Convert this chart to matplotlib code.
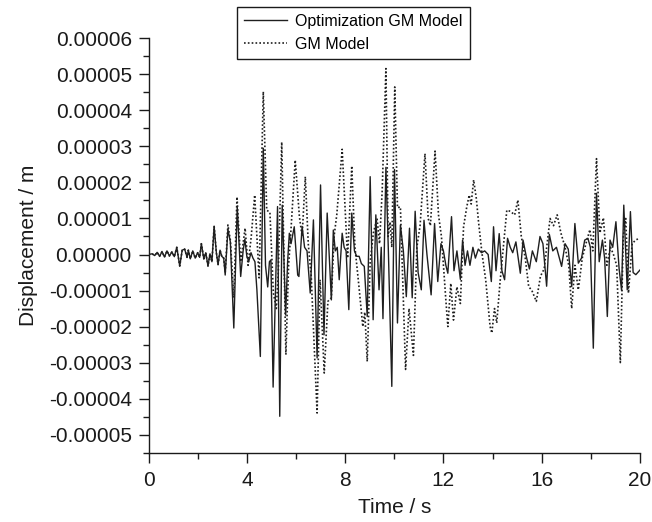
import matplotlib
matplotlib.use("Agg")
import matplotlib.pyplot as plt
from matplotlib.ticker import FixedLocator, FixedFormatter, MultipleLocator

"""Recycle params for plotting"""
plt.rc('font', family=['Liberation Sans', 'DejaVu Sans'], size=15)
plt.rc('axes', linewidth=1.0, edgecolor='#1a1a1a')
plt.rc('xtick', labelsize=15, color='#1a1a1a')
plt.rc('ytick', labelsize=15, color='#1a1a1a')

# displacement values are in units of 1e-5 m
t_opt = [0.00, 0.15, 0.25, 0.35, 0.45, 0.55, 0.65, 0.75, 0.85, 0.95, 1.05, 1.15,
         1.27, 1.37, 1.47, 1.57, 1.62, 1.70, 1.80, 1.90, 2.00, 2.08, 2.15, 2.25,
         2.33, 2.42, 2.50, 2.58, 2.67, 2.76, 2.83, 2.91, 2.98, 3.06, 3.12, 3.23,
         3.33, 3.47, 3.61, 3.75, 3.85, 3.92, 4.00, 4.08, 4.17, 4.25, 4.33, 4.41,
         4.55, 4.67, 4.76, 4.85, 4.92, 4.98, 5.07, 5.25, 5.34, 5.44, 5.58, 5.66,
         5.73, 5.80, 5.93, 6.07, 6.12, 6.25, 6.35, 6.45, 6.58, 6.71, 6.86, 7.00,
         7.14, 7.27, 7.44, 7.52, 7.60, 7.68, 7.76, 7.88, 7.96, 8.04, 8.15, 8.27,
         8.38, 8.47, 8.57, 8.66, 8.78, 8.90, 9.02, 9.14, 9.25, 9.38, 9.47, 9.54,
         9.66, 9.76, 9.90, 10.01, 10.13, 10.25, 10.37, 10.49, 10.62, 10.73, 10.85,
         10.97, 11.10, 11.21, 11.33, 11.50, 11.64, 11.77, 11.90, 12.00, 12.10,
         12.18, 12.33, 12.43, 12.55, 12.69, 12.78, 12.88, 12.98, 13.08, 13.20,
         13.30, 13.42, 13.55, 13.68, 13.82, 13.95, 14.04, 14.14, 14.27, 14.38,
         14.49, 14.61, 14.72, 14.82, 14.95, 15.13, 15.24, 15.37, 15.50, 15.62,
         15.78, 15.93, 16.05, 16.20, 16.31, 16.45, 16.60, 16.81, 16.95, 17.08,
         17.22, 17.35, 17.49, 17.62, 17.75, 17.88, 17.98, 18.10, 18.23, 18.34,
         18.47, 18.56, 18.67, 18.78, 18.89, 19.02, 19.15, 19.25, 19.34, 19.48,
         19.61, 19.72, 19.83, 20.00]
d_opt = [0.00, 0.02, -0.03, 0.06, -0.05, 0.08, -0.07, 0.10, -0.04, 0.07, -0.06, 0.20,
         -0.32, 0.12, 0.15, -0.08, 0.12, -0.12, 0.10, -0.10, 0.05, -0.08, 0.30, -0.12,
         0.05, -0.32, 0.02, -0.20, 0.78, 0.05, -0.28, 0.12, -0.05, -0.10, -0.57, 0.70,
         0.35, -2.04, 1.33, -0.61, 0.10, 0.43, -0.05, -0.19, 0.05, -0.10, -0.20, -0.98,
         -2.83, 2.95, -0.30, -0.90, -0.20, -0.15, -3.68, 1.33, -4.49, 1.37, -1.68, -0.20,
         0.59, 0.30, 0.77, -0.57, -0.61, 0.78, 0.20, 0.10, -1.07, 0.96, -2.87, 1.93,
         -2.23, 1.15, -1.26, 0.68, 0.10, 0.20, -0.70, 0.59, 0.20, 0.10, -1.53, 1.15,
         0.10, -0.05, -0.05, -0.25, -0.33, -1.72, 2.16, -1.81, 1.10, -0.98, 0.20, -1.78,
         2.42, 0.10, -3.66, 2.36, -1.90, 0.82, 0.10, -1.17, 0.73, -1.20, 1.20,
         -0.50, -0.98, 0.95, 0.00, -1.12, 0.86, -0.75, 0.30, 0.10, -0.30,
         -0.52, 1.05, -0.45, 0.10, -0.69, 0.40, -0.30, 0.10, -0.30, 0.20,
         -0.10, 0.15, 0.05, 0.10, 0.00, -0.75, 0.77, -0.45, 0.58, -0.45,
         -0.70, 0.45, 0.20, 0.05, 0.35, -0.52, 0.40, -0.05, -0.40, 0.10,
         -0.20, 0.50, 0.30, -0.88, 0.56, 0.10, 0.20, -0.33, 0.30, 0.15,
         -0.89, 0.86, -0.24, -0.10, 0.40, 0.45, 0.20, -2.60, 1.70, -0.20,
         0.40, -0.10, -1.72, 0.40, 0.20, 0.91, -0.40, -1.00, 1.37, -0.98,
         1.19, -0.50, -0.56, -0.43]

t_gm = [0.00, 0.15, 0.25, 0.35, 0.45, 0.55, 0.65, 0.75, 0.85, 0.95, 1.05, 1.15,
        1.27, 1.37, 1.47, 1.57, 1.62, 1.70, 1.80, 1.90, 2.00, 2.08, 2.15, 2.25,
        2.33, 2.42, 2.50, 2.58, 2.67, 2.76, 2.83, 2.91, 2.98, 3.06, 3.12, 3.23,
        3.33, 3.47, 3.60, 3.75, 3.93, 4.05, 4.18, 4.32, 4.50, 4.67, 4.81, 4.94,
        5.08, 5.20, 5.28, 5.42, 5.59, 5.70, 5.78, 5.97, 6.14, 6.25, 6.38, 6.50,
        6.62, 6.86, 6.98, 7.15, 7.30, 7.44, 7.55, 7.66, 7.88, 8.00, 8.10, 8.27,
        8.40, 8.55, 8.72, 8.80, 8.90, 9.02, 9.15, 9.30, 9.40, 9.51, 9.66, 9.75,
        9.83, 9.90, 10.02, 10.13, 10.25, 10.46, 10.60, 10.78, 10.92, 11.05, 11.25,
        11.38, 11.47, 11.66, 11.80, 11.92, 12.10, 12.18, 12.30, 12.41, 12.55,
        12.69, 12.82, 12.95, 13.05, 13.13, 13.23, 13.34, 13.43, 13.57, 13.72,
        13.90, 13.97, 14.08, 14.17, 14.30, 14.45, 14.58, 14.72, 14.90, 15.03,
        15.17, 15.33, 15.47, 15.60, 15.78, 15.95, 16.10, 16.34, 16.48, 16.63,
        16.78, 16.95, 17.10, 17.22, 17.35, 17.49, 17.65, 17.80, 17.96, 18.08,
        18.23, 18.37, 18.51, 18.65, 18.80, 18.92, 19.05, 19.20, 19.32, 19.42,
        19.53, 19.68, 19.82, 19.97]
d_gm = [0.00, 0.02, -0.03, 0.06, -0.05, 0.08, -0.07, 0.10, -0.04, 0.07, -0.06, 0.20,
        -0.32, 0.12, 0.15, -0.08, 0.12, -0.12, 0.10, -0.10, 0.05, -0.08, 0.30, -0.12,
        0.05, -0.32, 0.02, -0.20, 0.78, 0.05, -0.28, 0.12, -0.05, -0.10, -0.50, 0.82,
        0.40, -1.20, 1.60, -0.20, 0.73, -0.30, 0.50, 1.65, -0.65, 4.52, 1.23, 1.17,
        -1.07, -1.50, -0.50, 3.12, -2.78, -0.30, 0.50, 2.62, 1.05, 0.50, 2.16, 0.30,
        -0.60, -4.40, -0.70, -3.29, -1.30, -1.20, 0.50, 1.10, 2.92, 1.30, -0.10, 2.46,
        0.20, -0.80, -2.00, -1.60, -2.97, -0.20, 0.60, 1.00, 0.30, 1.79, 5.16, 0.50,
        0.90, 0.20, 4.65, 1.30, 1.32, -3.19, -1.50, -2.80, 0.20, 0.80, 2.80,
        1.00, 0.80, 2.87, 1.10, 0.50, -1.27, -2.00, -0.80, -1.82, -0.90,
        -1.36, 0.77, 1.32, 1.65, 1.40, 2.07, 1.55, 0.90, 0.03, -0.70,
        -2.00, -2.18, -1.50, -1.90, -0.80, 0.30, 1.23, 1.20, 1.10, 1.51,
        0.50, -0.10, -0.89, -1.00, -1.30, -0.60, -0.40, 1.00, 0.80, 1.10,
        0.60, 0.20, -0.30, -1.50, -0.30, -0.98, -0.10, 0.30, 0.69, 0.10,
        2.66, 0.60, 1.02, -0.30, 0.20, 0.00, -0.30, -3.00, 0.50, 1.00,
        -1.07, 0.30, 0.40, 0.45]

y_ticks = [-5, -4, -3, -2, -1, 0, 1, 2, 3, 4, 5, 6]
y_tick_labels = ['-0.00005', '-0.00004', '-0.00003', '-0.00002', '-0.00001', '0.00000',
                 '0.00001', '0.00002', '0.00003', '0.00004', '0.00005', '0.00006']
x_ticks = [0, 4, 8, 12, 16, 20]

scale = 1e-5

fig = plt.figure(figsize=(6.52, 5.22), dpi=100)
ax = fig.add_axes([0.2278, 0.1328, 0.7538, 0.7938])

ax.plot(t_opt, [v * scale for v in d_opt], color='#1f1f1f', lw=1.0, ls='-',
        label='Optimization GM Model', zorder=3)
ax.plot(t_gm, [v * scale for v in d_gm], color='#1f1f1f', lw=1.2, ls=(0, (1, 1.3)),
        label='GM Model', zorder=2)

ax.set_xlim(0, 20)
ax.set_ylim(-5.5 * scale, 6 * scale)

ax.spines['top'].set_visible(False)
ax.spines['right'].set_visible(False)

ax.xaxis.set_major_locator(FixedLocator(x_ticks))
ax.xaxis.set_minor_locator(MultipleLocator(2))
ax.yaxis.set_major_locator(FixedLocator([v * scale for v in y_ticks]))
ax.yaxis.set_major_formatter(FixedFormatter(y_tick_labels))
ax.yaxis.set_minor_locator(MultipleLocator(0.5 * scale))

ax.tick_params(which='major', direction='out', length=7, width=1.0)
ax.tick_params(which='minor', direction='out', length=4, width=1.0)
ax.tick_params(axis='x', which='major', pad=6)
ax.tick_params(axis='y', which='major', pad=5)

ax.set_xlabel('Time / s', fontsize=15, color='#1a1a1a', labelpad=6)
ax.set_ylabel('Displacement / m', fontsize=15, color='#1a1a1a', labelpad=8)

leg = ax.legend(loc='upper left', bbox_to_anchor=(0.18, 1.076), borderaxespad=0,
                fontsize=11.5, frameon=True, fancybox=False, framealpha=1,
                edgecolor='#1a1a1a', handlelength=2.7, handletextpad=0.5,
                borderpad=0.45, labelspacing=0.5)
leg.get_frame().set_linewidth(1.0)

plt.savefig('out.png', dpi=100)
plt.close()
